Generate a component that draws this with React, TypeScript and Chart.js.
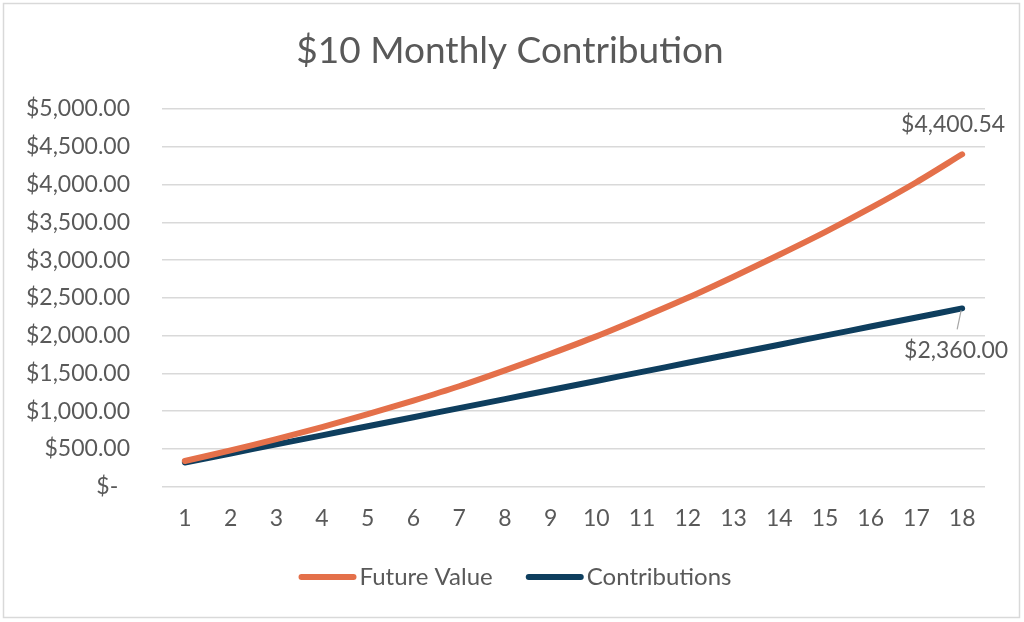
import React, { useEffect, useRef } from "react";
import { Chart, registerables } from "chart.js";

Chart.register(...registerables);

const titleText = "$10 Monthly Contribution";
const years = ["1", "2", "3", "4", "5", "6", "7", "8", "9", "10", "11", "12", "13", "14", "15", "16", "17", "18"];
const futureValue = [340, 480, 630, 790, 960, 1140, 1330, 1540, 1760, 1990, 2240, 2500, 2780, 3070, 3370, 3690, 4030, 4400.54];
const contributions = [320, 440, 560, 680, 800, 920, 1040, 1160, 1280, 1400, 1520, 1640, 1760, 1880, 2000, 2120, 2240, 2360];
const seriesNames = ["Future Value", "Contributions"];
const seriesColors = ["#E4704A", "#0E3E5E"];
const yMin = 0;
const yMax = 5000;
const yStep = 500;

const FONT = "Lato";
const TEXT_COLOR = "#595959";
const GRID_COLOR = "#D9D9D9";

function money(v: number): string {
  if (v === 0) return "$-  ";
  return "$" + v.toLocaleString("en-US", { minimumFractionDigits: 2, maximumFractionDigits: 2 });
}

const decorPlugin = {
  id: "decor",
  beforeDraw(chart: any) {
    const ctx = chart.ctx;
    ctx.save();
    ctx.fillStyle = "#FFFFFF";
    ctx.fillRect(0, 0, chart.width, chart.height);
    ctx.strokeStyle = GRID_COLOR;
    ctx.lineWidth = 1.5;
    ctx.strokeRect(3.5, 3.5, chart.width - 8, chart.height - 8);
    ctx.restore();
  },
  afterDraw(chart: any) {
    const ctx = chart.ctx;
    ctx.save();
    // Title
    ctx.fillStyle = TEXT_COLOR;
    ctx.font = `37px ${FONT}`;
    ctx.textAlign = "center";
    ctx.textBaseline = "middle";
    ctx.fillText(titleText, chart.width / 2 - 2, 51);

    // Data labels for last points
    ctx.font = `23px ${FONT}`;
    const fvMeta = chart.getDatasetMeta(0);
    const cMeta = chart.getDatasetMeta(1);
    const last = years.length - 1;
    const pFv = fvMeta.data[last];
    const pC = cMeta.data[last];
    ctx.fillText(money(futureValue[last]), pFv.x - 9, pFv.y - 30);
    // leader line
    ctx.strokeStyle = "#A6A6A6";
    ctx.lineWidth = 1.2;
    ctx.beginPath();
    ctx.moveTo(pC.x - 1, pC.y + 2);
    ctx.lineTo(pC.x - 5, pC.y + 21);
    ctx.stroke();
    ctx.fillText(money(contributions[last]), pC.x - 6, pC.y + 42);

    // Legend
    ctx.font = `24px ${FONT}`;
    const sampleW = 58;
    const gapText = 3;
    const gapItems = 33;
    const widths = seriesNames.map((n) => ctx.measureText(n).width);
    const total = widths.reduce((a, w) => a + sampleW + gapText + w, 0) + gapItems * (seriesNames.length - 1);
    let x = chart.width / 2 + 3 - total / 2;
    const ly = 577;
    ctx.textAlign = "left";
    seriesNames.forEach((n, i) => {
      ctx.strokeStyle = seriesColors[i];
      ctx.lineWidth = 6;
      ctx.lineCap = "round";
      ctx.beginPath();
      ctx.moveTo(x + 3, ly);
      ctx.lineTo(x + sampleW - 3, ly);
      ctx.stroke();
      ctx.fillStyle = TEXT_COLOR;
      ctx.fillText(n, x + sampleW + gapText, ly);
      x += sampleW + gapText + widths[i] + gapItems;
    });
    ctx.restore();
  },
};

export default function App() {
  const canvasRef = useRef<HTMLCanvasElement | null>(null);

  useEffect(() => {
    document.body.style.margin = "0";
    const canvas = canvasRef.current;
    if (!canvas) return;
    const chart = new Chart(canvas, {
      type: "line",
      data: {
        labels: years,
        datasets: [
          {
            label: seriesNames[0],
            data: futureValue,
            borderColor: seriesColors[0],
            backgroundColor: seriesColors[0],
            borderWidth: 6,
            pointRadius: 0,
            tension: 0.3,
            borderCapStyle: "round",
            borderJoinStyle: "round",
          },
          {
            label: seriesNames[1],
            data: contributions,
            borderColor: seriesColors[1],
            backgroundColor: seriesColors[1],
            borderWidth: 6,
            pointRadius: 0,
            tension: 0.3,
            borderCapStyle: "round",
            borderJoinStyle: "round",
          },
        ],
      },
      options: {
        animation: false,
        responsive: true,
        maintainAspectRatio: false,
        layout: { padding: { top: 109, right: 39, bottom: 0, left: 0 } },
        plugins: {
          legend: { display: false },
          title: { display: false },
          tooltip: { enabled: false },
        },
        scales: {
          x: {
            offset: true,
            grid: { display: false, drawTicks: false },
            border: { display: false },
            ticks: {
              color: TEXT_COLOR,
              font: { family: FONT, size: 23 },
              padding: 18,
              maxRotation: 0,
              autoSkip: false,
            },
            afterFit: (scale: any) => {
              scale.height = 135.3;
            },
          },
          y: {
            min: yMin,
            max: yMax,
            grid: { color: GRID_COLOR, lineWidth: 1.5, drawTicks: false },
            border: { display: false },
            ticks: {
              stepSize: yStep,
              color: TEXT_COLOR,
              font: { family: FONT, size: 23 },
              padding: 32,
              callback: (v: any) => money(Number(v)),
            },
            afterFit: (scale: any) => {
              scale.width = 162;
            },
          },
        },
      },
      plugins: [decorPlugin],
    });
    if ((document as any).fonts && (document as any).fonts.load) {
      Promise.all([
        (document as any).fonts.load(`23px ${FONT}`),
        (document as any).fonts.load(`37px ${FONT}`),
      ]).then(() => chart.update()).catch(() => {});
    }
    return () => chart.destroy();
  }, []);

  return (
    <div style={{ width: 1024, height: 622, position: "relative" }}>
      <canvas ref={canvasRef} />
    </div>
  );
}
